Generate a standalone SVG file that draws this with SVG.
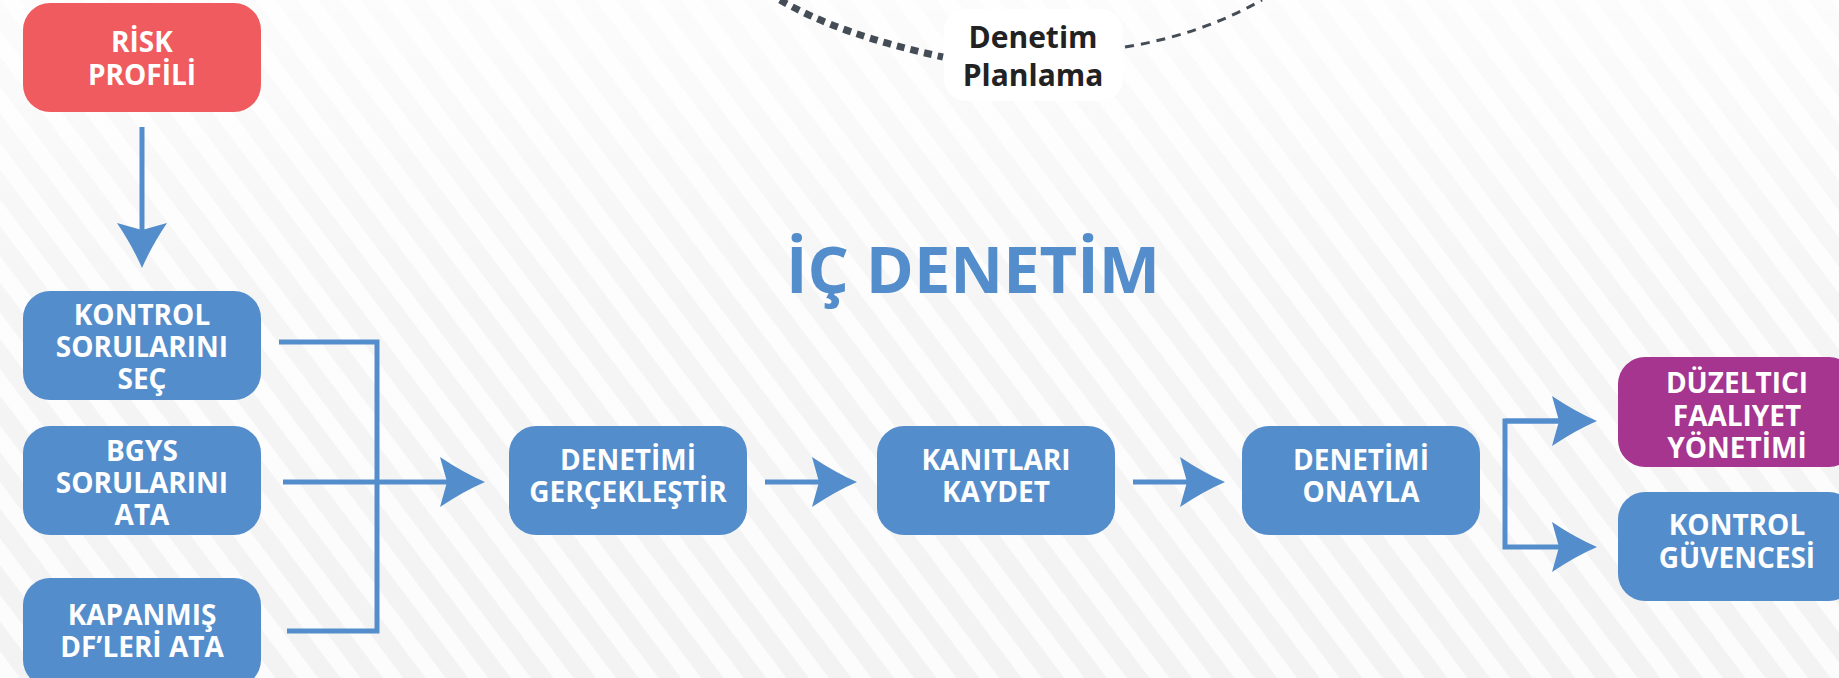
<svg xmlns="http://www.w3.org/2000/svg" width="1839" height="678" viewBox="0 0 1839 678">
<defs>
<pattern id="stripes" width="34" height="34" patternUnits="userSpaceOnUse" patternTransform="rotate(-37)">
<rect width="34" height="34" fill="#f2f2f2"/>
<rect width="16" height="34" fill="#fcfcfc"/>
</pattern>
<linearGradient id="fade" x1="0" y1="0" x2="0" y2="1">
<stop offset="0" stop-color="#ffffff" stop-opacity="0.75"/>
<stop offset="0.45" stop-color="#ffffff" stop-opacity="0.25"/>
<stop offset="1" stop-color="#ffffff" stop-opacity="0.05"/>
</linearGradient>
<marker id="ah" markerUnits="userSpaceOnUse" markerWidth="46" markerHeight="52" viewBox="0 0 46 52" refX="7" refY="26" orient="auto" overflow="visible">
<path d="M45,26 Q24,17 0,1 L7,26 L0,51 Q24,35 45,26 Z" fill="#548dcb"/>
</marker>
<style>
.box{stroke:none}
.blue{fill:#548dcb}
.red{fill:#f05b5f}
.purple{fill:#a6358f}
.lbl{font-family:"Open Sans","Noto Sans","DejaVu Sans",sans-serif;font-weight:700;font-size:28px;fill:#ffffff;text-anchor:middle}
.conn{fill:none;stroke:#548dcb;stroke-width:5}
.title{font-family:"Open Sans","Noto Sans","DejaVu Sans",sans-serif;font-weight:700;font-size:65px;fill:#548dcb;text-anchor:middle}
.plan{font-family:"Open Sans","Noto Sans","DejaVu Sans",sans-serif;font-weight:700;font-size:30px;fill:#222222;text-anchor:middle}
</style>
</defs>
<rect width="1839" height="678" fill="url(#stripes)"/>
<rect width="1839" height="678" fill="url(#fade)"/>

<g id="cycle">
<path d="M780,0 Q840,35 943,57" fill="none" stroke="#444d55" stroke-width="7" stroke-dasharray="8 6"/>
<path d="M1125,47 Q1200,35 1262,0" fill="none" stroke="#444d55" stroke-width="3" stroke-dasharray="9 7"/>
</g>
<g id="planlama">
<rect x="944" y="9" width="179" height="92" rx="22" fill="#ffffff"/>
<text class="plan" x="1033" y="48">Denetim</text>
<text class="plan" x="1033" y="86">Planlama</text>
</g>

<text id="title" class="title" x="973" y="293">İÇ DENETİM</text>

<g id="connectors">
<path class="conn" d="M142,127 V230" marker-end="url(#ah)"/>
<path class="conn" d="M279,342 H377 V631 H287"/>
<path class="conn" d="M283,482 H447" marker-end="url(#ah)"/>
<path class="conn" d="M765,482 H819" marker-end="url(#ah)"/>
<path class="conn" d="M1133,482 H1187" marker-end="url(#ah)"/>
<path class="conn" d="M1559,421 H1505 V547 H1559" marker-end="url(#ah)"/>
<path class="conn" d="M1505,421 H1559" marker-end="url(#ah)"/>
</g>

<g id="risk-profili">
<rect class="box red" x="23" y="3" width="238" height="109" rx="27"/>
<text class="lbl" x="142" y="52">RİSK</text>
<text class="lbl" x="142" y="85">PROFİLİ</text>
</g>
<g id="kontrol-sorulari">
<rect class="box blue" x="23" y="291" width="238" height="109" rx="27"/>
<text class="lbl" x="142" y="325">KONTROL</text>
<text class="lbl" x="142" y="357">SORULARINI</text>
<text class="lbl" x="142" y="389">SEÇ</text>
</g>
<g id="bgys-sorulari">
<rect class="box blue" x="23" y="426" width="238" height="109" rx="27"/>
<text class="lbl" x="142" y="461">BGYS</text>
<text class="lbl" x="142" y="493">SORULARINI</text>
<text class="lbl" x="142" y="525">ATA</text>
</g>
<g id="kapanmis-df">
<rect class="box blue" x="23" y="578" width="238" height="109" rx="27"/>
<text class="lbl" x="142" y="625">KAPANMIŞ</text>
<text class="lbl" x="142" y="657">DF’LERİ ATA</text>
</g>
<g id="denetimi-gerceklestir">
<rect class="box blue" x="509" y="426" width="238" height="109" rx="27"/>
<text class="lbl" x="628" y="470">DENETİMİ</text>
<text class="lbl" x="628" y="502">GERÇEKLEŞTİR</text>
</g>
<g id="kanitlari-kaydet">
<rect class="box blue" x="877" y="426" width="238" height="109" rx="27"/>
<text class="lbl" x="996" y="470">KANITLARI</text>
<text class="lbl" x="996" y="502">KAYDET</text>
</g>
<g id="denetimi-onayla">
<rect class="box blue" x="1242" y="426" width="238" height="109" rx="27"/>
<text class="lbl" x="1361" y="470">DENETİMİ</text>
<text class="lbl" x="1361" y="502">ONAYLA</text>
</g>
<g id="duzeltici-faaliyet">
<rect class="box purple" x="1618" y="357" width="238" height="110" rx="27"/>
<text class="lbl" x="1737" y="393">DÜZELTICI</text>
<text class="lbl" x="1737" y="426">FAALIYET</text>
<text class="lbl" x="1737" y="458">YÖNETİMİ</text>
</g>
<g id="kontrol-guvencesi">
<rect class="box blue" x="1618" y="492" width="238" height="109" rx="27"/>
<text class="lbl" x="1737" y="535">KONTROL</text>
<text class="lbl" x="1737" y="568">GÜVENCESİ</text>
</g>
</svg>
